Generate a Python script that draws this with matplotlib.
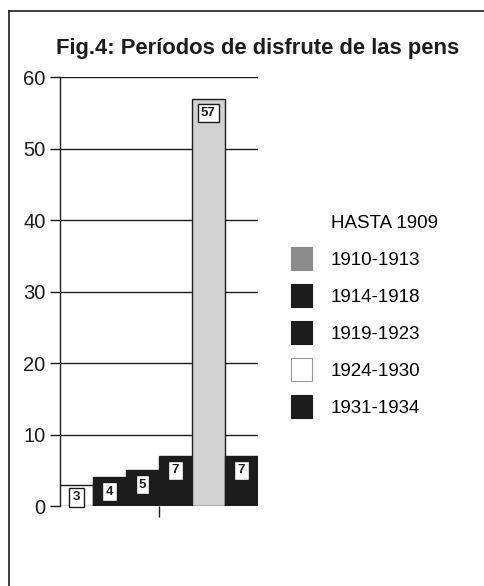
import matplotlib
matplotlib.use("Agg")
import matplotlib.pyplot as plt
from matplotlib.patches import Patch
from matplotlib.lines import Line2D

plt.rcParams['font.family'] = ['Liberation Sans', 'DejaVu Sans']

periods = ["HASTA 1909", "1910-1913", "1914-1918", "1919-1923", "1924-1930", "1931-1934"]
values = [3, 4, 5, 7, 57, 7]
bar_colors = ["white", "#1c1c1c", "#1c1c1c", "#1c1c1c", "#d2d2d2", "#1c1c1c"]
legend_colors = ["white", "#8c8c8c", "#1c1c1c", "#1c1c1c", "white", "#1c1c1c"]
yticks = [0, 10, 20, 30, 40, 50, 60]

fig = plt.figure(figsize=(4.84, 5.86), dpi=100)
ax = fig.add_axes([0.124, 0.1365, 0.409, 0.732])

x = list(range(len(values)))
ax.bar(x, values, width=1.0, color=bar_colors, edgecolor="#1c1c1c", linewidth=1.0, zorder=3)
for xi, v in zip(x, values):
    ypos = v / 2 - 0.3 if v < 4 else v - 2.0
    ax.text(xi, ypos, str(v), ha="center", va="center", fontsize=9.5, fontweight="bold",
            color="#1c1c1c", zorder=4,
            bbox=dict(boxstyle="square,pad=0.25", fc="white", ec="#1c1c1c", lw=1.0))

ax.set_xlim(-0.5, len(values) - 0.5)
ax.set_ylim(0, 60)
ax.set_yticks(yticks)
ax.tick_params(axis="y", labelsize=14.5, length=7, width=1, direction="out", colors="#1c1c1c")
ax.set_xticks([2.5])
ax.set_xticklabels([""])
ax.tick_params(axis="x", length=8, width=1, direction="out", colors="#1c1c1c")
ax.yaxis.grid(True, color="#1c1c1c", linewidth=1.0, zorder=0)
ax.set_axisbelow(True)
for s in ["top", "right", "bottom"]:
    ax.spines[s].set_visible(False)
ax.spines["left"].set_color("#1c1c1c")
ax.spines["left"].set_linewidth(1.0)

handles = [Patch(facecolor=c, edgecolor=("white" if i == 0 else ("#999999" if c == "white" else c)), lw=0.8)
           for i, c in enumerate(legend_colors)]
fig.legend(handles, periods, loc="upper left", bbox_to_anchor=(0.585, 0.654),
           frameon=False, fontsize=13.5, handlelength=1.15, handleheight=1.5,
           labelspacing=0.75, handletextpad=1.0, borderaxespad=0)

fig.text(0.533, 0.918, "Fig.4: Períodos de disfrute de las pens", ha="center", va="center",
         fontsize=15.8, fontweight="bold", color="#1c1c1c")

fig.add_artist(Line2D([0.019, 0.019], [0.0, 0.981], color="#1c1c1c", lw=1.2))
fig.add_artist(Line2D([0.019, 1.0], [0.981, 0.981], color="#1c1c1c", lw=1.2))

fig.savefig("out.png", dpi=100)
